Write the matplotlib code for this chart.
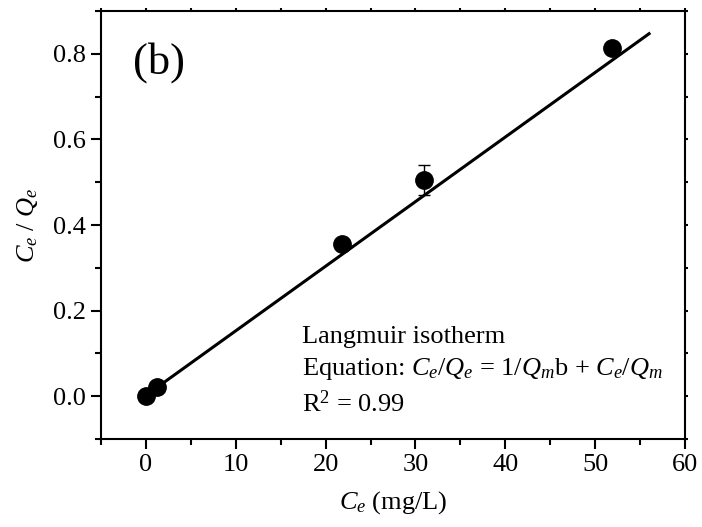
import matplotlib
matplotlib.use('Agg')
import matplotlib.pyplot as plt
from matplotlib.ticker import MultipleLocator, FormatStrFormatter

# measured points
ce = [0.0, 1.2, 21.8, 30.9, 51.9]
ce_qe = [0.0, 0.021, 0.356, 0.505, 0.814]
ce_qe_err = [0.0, 0.0, 0.0, 0.036, 0.0]

# linear fit line end points
fit_x = [1.2, 56.0]
fit_y = [0.020, 0.847]

plt.rcParams['font.family'] = ['Liberation Serif', 'DejaVu Serif']
plt.rcParams['mathtext.fontset'] = 'custom'
plt.rcParams['mathtext.rm'] = 'Liberation Serif'
plt.rcParams['mathtext.it'] = 'Liberation Serif:italic'
plt.rcParams['mathtext.bf'] = 'Liberation Serif:bold'

fig = plt.figure(figsize=(7.02, 5.27), dpi=100)
ax = fig.add_axes([0.1439, 0.1670, 0.8319, 0.8121])

ax.plot(fit_x, fit_y, color='black', lw=2.2, zorder=2)
ax.errorbar(ce, ce_qe, yerr=ce_qe_err, fmt='o', color='black', ms=12.5,
            elinewidth=1.0, capsize=4, capthick=1.0, zorder=3)

ax.set_xlim(-5, 60)
ax.set_ylim(-0.1, 0.9)
ax.xaxis.set_major_locator(MultipleLocator(10))
ax.xaxis.set_minor_locator(MultipleLocator(5))
ax.yaxis.set_major_locator(MultipleLocator(0.2))
ax.yaxis.set_minor_locator(MultipleLocator(0.1))
ax.yaxis.set_major_formatter(FormatStrFormatter('%.1f'))

for s in ax.spines.values():
    s.set_linewidth(1.5)
ax.tick_params(which='major', direction='out', length=7, width=1.5,
               labelsize=19, pad=4)
ax.tick_params(which='minor', direction='out', length=4, width=1.5)
ax.tick_params(which='both', top=True, right=True)
# tiny ticks on top and right spines
for t in ax.xaxis.get_ticklines(minor=False)[1::2] + ax.xaxis.get_ticklines(minor=True)[1::2]:
    t.set_markersize(2)
for t in ax.yaxis.get_ticklines(minor=False)[1::2] + ax.yaxis.get_ticklines(minor=True)[1::2]:
    t.set_markersize(2)

ax.set_xlabel(r'$C_e$ (mg/L)', fontsize=19, labelpad=9)
ax.set_ylabel(r'$C_e$ / $Q_e$', fontsize=19, labelpad=9)

ax.text(-1.4, 0.78, '(b)', fontsize=32, va='center', ha='left')
ax.text(17.4, 0.124, 'Langmuir isotherm', fontsize=19, va='baseline')
ax.text(17.4, 0.049, r'Equation: $C_e/Q_e$ = 1/$Q_m$b + $C_e/Q_m$',
        fontsize=19, va='baseline')
ax.text(17.4, -0.037, r'R$^2$ = 0.99', fontsize=19, va='baseline')

fig.savefig('out.png', dpi=100)
